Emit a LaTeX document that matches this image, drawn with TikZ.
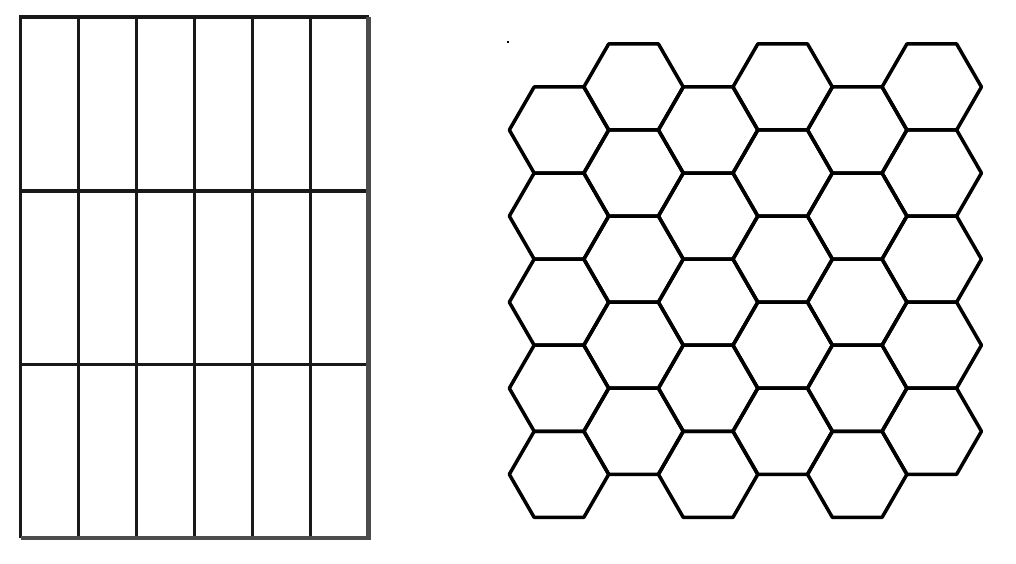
\documentclass[tikz,border=0pt]{standalone}
\begin{document}
\begin{tikzpicture}[x=1pt,y=-1pt,
  gridline/.style={line width=3.8pt,black!90},
  gridedge/.style={line width=4.2pt,black!70},
  hexline/.style={line width=3.5pt,black,line join=round}]
\useasboundingbox[fill=white] (0,0) rectangle (1016,564);
% rectangular grid
\foreach \x in {78.5,136.5,194.5,252.5,310.5}
  \draw[gridline] (\x,17) -- (\x,538);
\foreach \y in {191,364.5}
  \draw[gridline] (20.5,\y) -- (368.5,\y);
\draw[gridline] (20.5,538) -- (20.5,17) -- (368.5,17);
\draw[gridedge] (368.5,17) -- (368.5,538) -- (20.5,538);
% hexagonal grid
\def\hs{49.7}
\def\hh{43.04}
\foreach \c in {0,...,5}{
  \pgfmathsetmacro{\cx}{559+\c*74.55}
  \pgfmathsetmacro{\oy}{mod(\c,2)==0 ? 130 : 86.96}
  \foreach \r in {0,...,4}{
    \pgfmathsetmacro{\cy}{\oy+\r*86.08}
    \draw[hexline] (\cx-\hs,\cy) -- (\cx-\hs/2,\cy-\hh) -- (\cx+\hs/2,\cy-\hh)
      -- (\cx+\hs,\cy) -- (\cx+\hs/2,\cy+\hh) -- (\cx-\hs/2,\cy+\hh) -- cycle;
  }
}
% stray dot
\fill[black] (506.5,41) rectangle (508.5,43);
\end{tikzpicture}
\end{document}
